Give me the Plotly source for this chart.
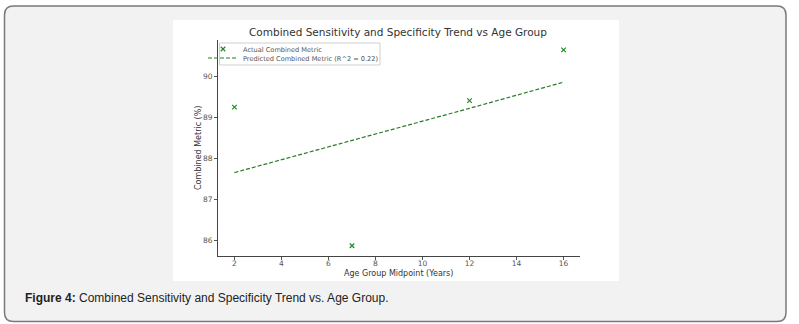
import plotly.graph_objects as go

W, H = 799, 324

# ---- data ----
age_midpoints = [2, 7, 12, 16]
actual_metric = [89.25, 85.86, 89.41, 90.65]
predicted_metric = [87.65, 88.43, 89.22, 89.86]
x_ticks = [2, 4, 6, 8, 10, 12, 14, 16]
y_ticks = [86, 87, 88, 89, 90]

title_text = "Combined Sensitivity and Specificity Trend vs Age Group"
x_label = "Age Group Midpoint (Years)"
y_label = "Combined Metric (%)"
actual_name = "Actual Combined Metric"
pred_name = "Predicted Combined Metric (R^2 = 0.22)"
caption = "<b>Figure 4:</b> Combined Sensitivity and Specificity Trend vs. Age Group."


def px(x):
    return x / W


def py(y):
    return 1 - y / H


CHART_FONT = "DejaVu Sans"
GREEN = "#1f8a1f"

fig = go.Figure()
fig.add_trace(go.Scatter(
    x=age_midpoints, y=actual_metric, mode="markers", name=actual_name,
    marker=dict(symbol="x-thin", size=4.5, color=GREEN, line=dict(width=1.2, color=GREEN)),
    legend="legend",
))
fig.add_trace(go.Scatter(
    x=age_midpoints, y=predicted_metric, mode="lines", name=pred_name,
    line=dict(color="#2a7a2a", width=1.2, dash="4px,2px"),
    legend="legend2",
))


def rounded_rect(x0, y0, x1, y1, r):
    X0, X1 = px(x0), px(x1)
    Y0, Y1 = py(y0), py(y1)
    rx, ry = r / W, r / H
    return (f"M {X0+rx},{Y0} L {X1-rx},{Y0} Q {X1},{Y0} {X1},{Y0-ry} "
            f"L {X1},{Y1+ry} Q {X1},{Y1} {X1-rx},{Y1} L {X0+rx},{Y1} "
            f"Q {X0},{Y1} {X0},{Y1+ry} L {X0},{Y0-ry} Q {X0},{Y0} {X0+rx},{Y0} Z")


shapes = [
    dict(type="path", xref="paper", yref="paper", layer="below",
         path=rounded_rect(4.5, 6, 786, 321.5, 9),
         fillcolor="#f2f2f2", line=dict(color="#7a7a7a", width=1.5)),
    dict(type="rect", xref="paper", yref="paper", layer="below",
         x0=px(173), x1=px(619), y0=py(281), y1=py(20),
         fillcolor="white", line=dict(width=0)),
    dict(type="rect", xref="paper", yref="paper", layer="above",
         x0=px(219.5), x1=px(380), y0=py(65), y1=py(43),
         fillcolor="rgba(0,0,0,0)", line=dict(color="#cfcfcf", width=1)),
]

annotations = [
    dict(text=title_text, x=px(398), y=py(32), xref="paper", yref="paper",
         showarrow=False, xanchor="center", yanchor="middle",
         font=dict(family=CHART_FONT, size=10.5, color="#333333")),
    dict(text=x_label, x=px(398), y=py(273), xref="paper", yref="paper",
         showarrow=False, xanchor="center", yanchor="middle",
         font=dict(family=CHART_FONT, size=8, color="#333333")),
    dict(text=y_label, x=px(198), y=py(148), xref="paper", yref="paper",
         showarrow=False, xanchor="center", yanchor="middle", textangle=-90,
         font=dict(family=CHART_FONT, size=8, color="#333333")),
    dict(text=caption, x=px(23), y=py(298), xref="paper", yref="paper",
         showarrow=False, xanchor="left", yanchor="middle",
         font=dict(family="Liberation Sans, Arial", size=12, color="#222222")),
]

legend_common = dict(
    bgcolor="rgba(0,0,0,0)", borderwidth=0, itemwidth=30,
    font=dict(family=CHART_FONT, size=6.6, color="#555555"),
    xanchor="left", yanchor="middle", orientation="v",
)

axis_common = dict(
    ticks="outside", ticklen=3, tickwidth=0.8, tickcolor="#555555",
    showgrid=False, zeroline=False, showline=True, linecolor="#444444", linewidth=1,
    tickfont=dict(family=CHART_FONT, size=7.5, color="#555555"),
)

fig.update_layout(
    width=W, height=H,
    margin=dict(l=0, r=0, t=0, b=0),
    paper_bgcolor="white", plot_bgcolor="rgba(0,0,0,0)",
    showlegend=True,
    legend=dict(x=px(203), y=py(49), **legend_common),
    legend2=dict(x=px(203), y=py(58), **legend_common),
    shapes=shapes, annotations=annotations,
    xaxis=dict(domain=[px(218), px(580)], range=[1.3, 16.7], tickvals=x_ticks,
               ticklabelstandoff=-3, **axis_common),
    yaxis=dict(domain=[py(256), py(40)], range=[85.61, 90.89], tickvals=y_ticks,
               **axis_common),
)

fig.write_html("out.html")
